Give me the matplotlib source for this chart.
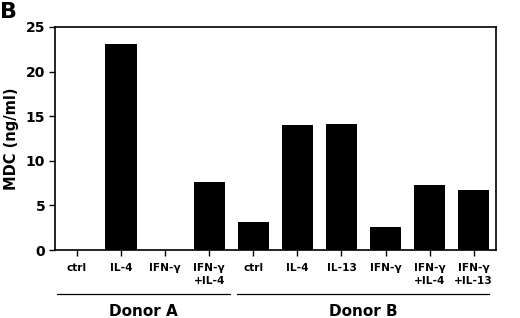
import matplotlib
matplotlib.use("Agg")
import matplotlib.pyplot as plt
from matplotlib.transforms import blended_transform_factory

categories = ["ctrl", "IL-4", "IFN-γ", "IFN-γ\n+IL-4",
              "ctrl", "IL-4", "IL-13", "IFN-γ", "IFN-γ\n+IL-4", "IFN-γ\n+IL-13"]
values = [0.0, 23.1, 0.0, 7.65, 3.15, 14.0, 14.1, 2.55, 7.25, 6.7]
groups = ["Donor A", "Donor B"]
yticks = [0, 5, 10, 15, 20, 25]

plt.rcParams['font.family'] = ['DejaVu Sans']
plt.rcParams['font.weight'] = 'bold'

fig = plt.figure(figsize=(5.2, 3.18), dpi=100)
ax = fig.add_axes([0.1058, 0.2138, 0.9533 - 0.1058, 0.9151 - 0.2138])

x = list(range(len(categories)))
ax.bar(x, values, width=0.71, color='black')
ax.set_xlim(-0.5, len(categories) - 0.5)
ax.set_ylim(0, 25)
ax.set_yticks(yticks)
ax.set_yticklabels([str(t) for t in yticks], fontsize=10, fontweight='bold')
ax.set_xticks(x)
ax.set_xticklabels(categories, fontsize=7.6, fontweight='bold', linespacing=1.4, va='top')
ax.tick_params(axis='x', direction='out', length=4, width=1, pad=5)
ax.tick_params(axis='y', direction='out', length=4, width=1, pad=3)
for s in ax.spines.values():
    s.set_linewidth(1.2)
ax.set_ylabel("MDC (ng/ml)", fontsize=10.5, fontweight='bold', labelpad=5)

tr = blended_transform_factory(ax.transData, fig.transFigure)
spans = [(-0.45, 3.47), (3.63, 9.35)]
yline = 1 - 294 / 318
for (a, b), g in zip(spans, groups):
    ax.plot([a, b], [yline, yline], color='black', lw=0.9, transform=tr, clip_on=False)
    ax.text((a + b) / 2, 1 - 311 / 318, g, transform=tr, ha='center', va='center',
            fontsize=11, fontweight='bold')

fig.text(0.0, 1 - 12 / 318, "B", fontsize=16, fontweight='bold', ha='left', va='center')

fig.savefig("out.png", dpi=100)
